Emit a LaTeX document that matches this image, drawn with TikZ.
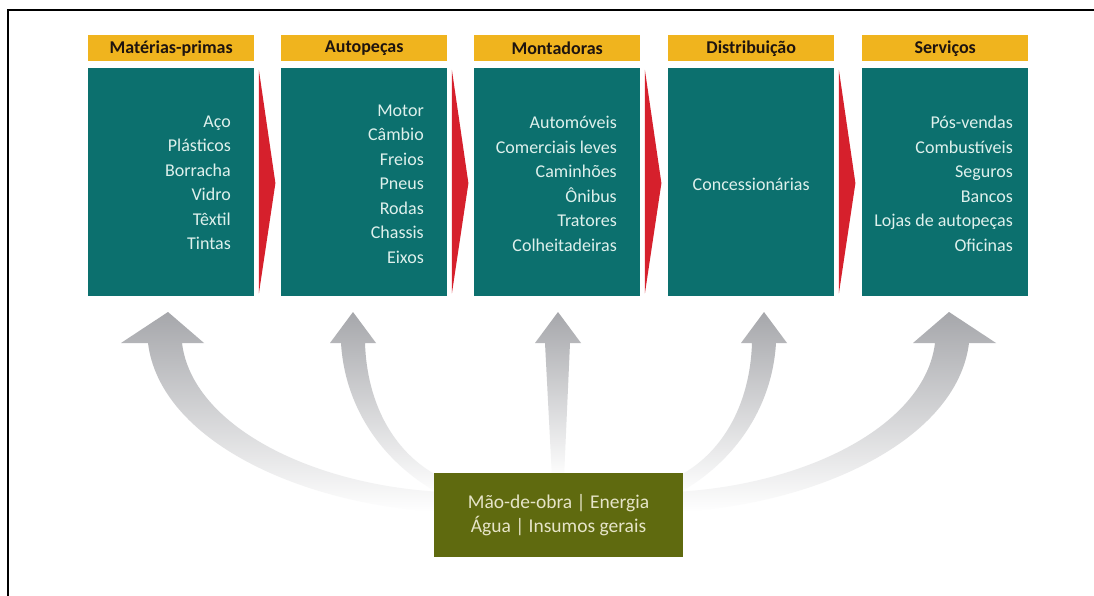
\documentclass[tikz,border=0pt]{standalone}
\usepackage{fontspec}
\setmainfont{Carlito}
\usetikzlibrary{calc}
\definecolor{tealc}{RGB}{12,112,110}
\definecolor{goldc}{RGB}{240,180,30}
\definecolor{hdrtext}{RGB}{30,20,15}
\definecolor{bodytext}{RGB}{222,240,236}
\definecolor{olivec}{RGB}{95,106,15}
\definecolor{olivetext}{RGB}{230,228,200}
\definecolor{redc}{RGB}{214,32,44}
\definecolor{arrowgray}{RGB}{166,167,171}
\begin{document}
\begin{tikzpicture}[x=1pt,y=-1pt,
  hdr/.style={fill=goldc, text=hdrtext, minimum width=166pt, minimum height=26pt, inner sep=0pt,
    font=\bfseries\fontsize{18}{20}\selectfont, anchor=north west},
  body/.style={fill=tealc, minimum width=166pt, minimum height=228pt, inner sep=0pt, anchor=north west},
  items/.style={text=bodytext, align=right, font=\fontsize{18}{24.5}\selectfont, inner sep=0pt, anchor=east},
  chev/.style={fill=redc},
  flow/.style={top color=arrowgray, middle color=arrowgray!50!white, bottom color=white, draw=none}
]
\useasboundingbox (0,0) rectangle (1094,596);
\fill[white] (0,0) rectangle (1094,596);
\draw[line width=2pt] (7.5,596) -- (7.5,10.5) -- (1094,10.5);

% headers
\node[hdr] (h1) at (88,35) {Matérias-primas};
\node[hdr] (h2) at (281,35) {Autopeças};
\node[hdr] (h3) at (474,35) {Montadoras};
\node[hdr] (h4) at (668,35) {Distribuição};
\node[hdr] (h5) at (862,35) {Serviços};

% bodies
\node[body] (b1) at (88,68) {};
\node[body] (b2) at (281,68) {};
\node[body] (b3) at (474,68) {};
\node[body] (b4) at (668,68) {};
\node[body] (b5) at (862,68) {};

% item lists
\node[items] (t1) at (231,183) {Aço\\Plásticos\\Borracha\\Vidro\\Têxtil\\Tintas};
\node[items] (t2) at (424,184) {Motor\\Câmbio\\Freios\\Pneus\\Rodas\\Chassis\\Eixos};
\node[items] (t3) at (617,184) {Automóveis\\Comerciais leves\\Caminhões\\Ônibus\\Tratores\\Colheitadeiras};
\node[text=bodytext, font=\fontsize{18}{24.5}\selectfont, inner sep=0pt] (t4) at ($(b4.center)+(0,2)$) {Concessionárias};
\node[items] (t5) at (1013,184) {Pós-vendas\\Combustíveis\\Seguros\\Bancos\\Lojas de autopeças\\Oficinas};

% red chevrons
\foreach \a in {b1,b2,b3,b4}{
  \fill[chev] ($(\a.north east)+(4.5,2)$) -- ($(\a.east)+(21,1)$) -- ($(\a.south east)+(4.5,-3)$) -- cycle;
}

% gray curved arrows (left half)
\path[flow] (182,343) -- (204,343) -- (168,312) -- (121,343) -- (148,343)
  .. controls (160,440) and (300,505) .. (442,512) -- (442,492)
  .. controls (310,485) and (192,425) .. (182,343) -- cycle;
\path[flow] (365,343) -- (376,343) -- (353,312) -- (330,343) -- (341,343)
  .. controls (345,410) and (385,465) .. (442,495) -- (442,478)
  .. controls (395,455) and (367,405) .. (365,343) -- cycle;
% middle
\path[flow] (545,343) -- (535,343) -- (558,312) -- (581,343) -- (570,343) -- (564,478) -- (552,478) -- cycle;
% right half (mirrored)
\begin{scope}[xshift=1117pt, xscale=-1]
\path[flow] (182,343) -- (204,343) -- (168,312) -- (121,343) -- (148,343)
  .. controls (160,440) and (300,505) .. (442,512) -- (442,492)
  .. controls (310,485) and (192,425) .. (182,343) -- cycle;
\path[flow] (365,343) -- (376,343) -- (353,312) -- (330,343) -- (341,343)
  .. controls (345,410) and (385,465) .. (442,495) -- (442,478)
  .. controls (395,455) and (367,405) .. (365,343) -- cycle;
\end{scope}

% resources box
\node[fill=olivec, text=olivetext, minimum width=249pt, minimum height=84pt, inner sep=0pt,
  align=center, font=\fontsize{19.5}{24}\selectfont] (res) at (558.5,515)
  {Mão-de-obra | Energia\\Água | Insumos gerais};
\end{tikzpicture}
\end{document}
